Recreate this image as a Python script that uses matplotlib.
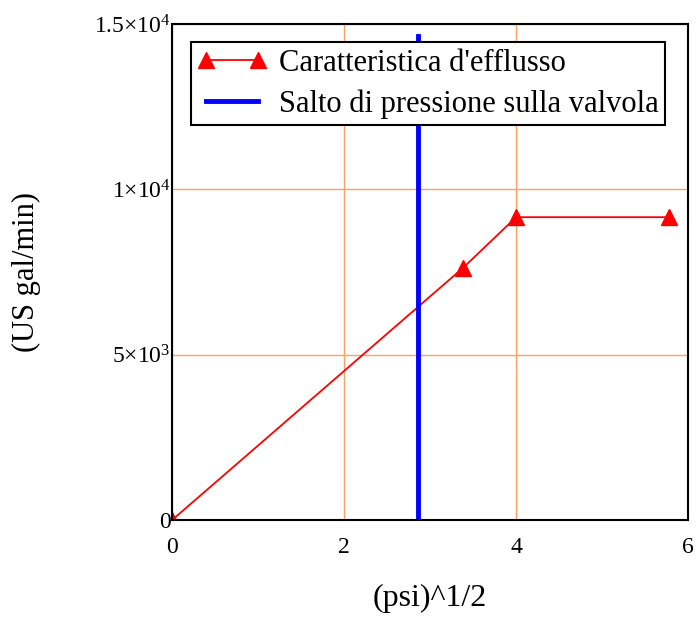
import matplotlib
matplotlib.use("Agg")
import matplotlib.pyplot as plt
from matplotlib.ticker import FuncFormatter

# curva di efflusso (radice del salto di pressione vs portata)
x_eff = [0.0, 3.38, 4.0, 5.78]
q_eff = [0.0, 7620.0, 9160.0, 9160.0]

# salto di pressione sulla valvola
x_salto = [2.86, 2.86]
q_salto = [0.0, 14630.0]

x_ticks = [0, 2, 4, 6]
y_ticks = [0, 5000, 10000, 15000]
y_labels = ["0", r"5$\times$10$^{3}$", r"1$\times$10$^{4}$", r"1.5$\times$10$^{4}$"]

plt.rcParams['font.family'] = ['Liberation Serif', 'DejaVu Serif']
plt.rcParams['mathtext.fontset'] = 'custom'
plt.rcParams['mathtext.rm'] = 'Liberation Serif'
plt.rcParams['mathtext.it'] = 'Liberation Serif:italic'

fig = plt.figure(figsize=(7, 6.19), dpi=100)
ax = fig.add_axes([0.246, 0.160, 0.737, 0.801])

ax.plot(x_eff, q_eff, color='red', lw=1.3, marker='^', ms=12,
        label="Caratteristica d'efflusso")
ax.plot(x_salto, q_salto, color='blue', lw=3.5,
        label="Salto di pressione sulla valvola")

ax.set_xlim(0, 6)
ax.set_ylim(0, 15000)
ax.set_xticks(x_ticks)
ax.set_yticks(y_ticks)
ax.yaxis.set_major_formatter(FuncFormatter(lambda v, p: y_labels[y_ticks.index(int(round(v)))]))
ax.tick_params(length=0, labelsize=17)
ax.tick_params(axis='x', pad=12)
ax.tick_params(axis='y', pad=1)
ax.grid(True, color='#FFA060', lw=1)
ax.set_axisbelow(True)
for s in ax.spines.values():
    s.set_linewidth(1.5)

ax.set_xlabel("(psi)^1/2", fontsize=23, labelpad=19)
ax.set_ylabel("(US gal/min)", fontsize=22, labelpad=38)

leg = ax.legend(loc='upper left', fontsize=22, numpoints=2, fancybox=False,
                framealpha=1, edgecolor='black', borderpad=0.2,
                handlelength=2.3, handletextpad=0.4, labelspacing=0.38,
                borderaxespad=0.6)
leg.get_frame().set_linewidth(1.5)

fig.savefig("out.png", dpi=100)
